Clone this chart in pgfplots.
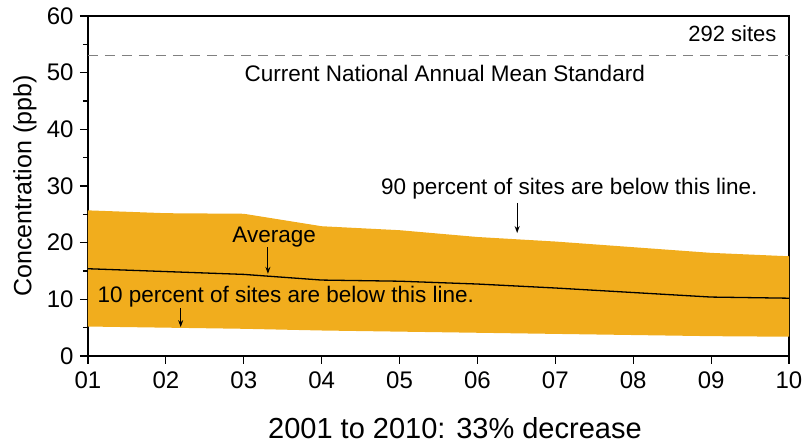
\documentclass[border=0pt]{standalone}
\usepackage{fontspec}
\setmainfont{Liberation Sans}
\usepackage{pgfplots}
\usepackage{pgfplotstable}
\pgfplotsset{compat=1.18}
\usetikzlibrary{arrows.meta}
\definecolor{band}{RGB}{241,173,29}

% year, 10th percentile, average, 90th percentile (ppb)
\pgfplotstableread{
x  p10  avg   p90
1  5.2  15.4  25.7
2  5.0  14.9  25.2
3  4.8  14.4  25.1
4  4.5  13.4  22.9
5  4.3  13.2  22.2
6  4.1  12.7  21.0
7  3.9  12.0  20.2
8  3.7  11.2  19.2
9  3.5  10.4  18.2
10 3.4  10.2  17.6
}\notwo

\begin{document}
\begin{tikzpicture}
\begin{axis}[
  scale only axis,
  width=701pt, height=340pt,
  xmin=1, xmax=10, ymin=0, ymax=60,
  xtick={1,...,10},
  xticklabels={01,02,03,04,05,06,07,08,09,10},
  ytick={0,10,...,60},
  minor ytick={5,15,...,55},
  tick pos=left,
  tick align=outside,
  tickwidth=8pt, subtickwidth=5pt,
  every tick/.append style={black, line width=1.2pt},
  axis line style={line width=1.2pt},
  ticklabel style={font=\fontsize{24}{28}\selectfont},
  yticklabel style={xshift=-3pt},
  xticklabel style={yshift=-4pt},
  /pgf/number format/assume math mode=true,
  xlabel={2001 to 2010: 33\% decrease},
  ylabel={Concentration (ppb)},
  xlabel style={font=\fontsize{29}{33}\selectfont, at={(axis description cs:0.5235,-0.212)}, anchor=center},
  ylabel style={font=\fontsize{25}{29}\selectfont, at={(axis description cs:-0.0899,0.5)}, anchor=center},
  clip=false,
]
% band: 10th percentile forwards, 90th percentile backwards
\addplot[fill=band, draw=none] coordinates {
  (1,5.2) (2,5.0) (3,4.8) (4,4.5) (5,4.3) (6,4.1) (7,3.9) (8,3.7) (9,3.5) (10,3.4)
  (10,17.6) (9,18.2) (8,19.2) (7,20.2) (6,21.0) (5,22.2) (4,22.9) (3,25.1) (2,25.2) (1,25.7)
} -- cycle;
\addplot[black, line width=1.3pt] table[x=x, y=avg] {\notwo};
\addplot[gray, line width=1.2pt, dash pattern=on 10pt off 7pt] coordinates {(1,53) (10,53)};

% outward tick strokes, lengths given in axis units (8pt and 5pt)
\pgfplotsinvokeforeach{1,...,10}{\draw[line width=1.2pt] (axis cs:#1,0) -- (axis cs:#1,-1.41);}
\pgfplotsinvokeforeach{0,10,...,60}{\draw[line width=1.2pt] (axis cs:1,#1) -- (axis cs:0.897,#1);}
\pgfplotsinvokeforeach{5,15,...,55}{\draw[line width=1.2pt] (axis cs:1,#1) -- (axis cs:0.936,#1);}

\node[anchor=east, font=\fontsize{22}{26}\selectfont] at (axis cs:9.884,56.8) {292 sites};
\node[font=\fontsize{22.5}{26}\selectfont] at (axis cs:5.58,49.8) {Current National Annual Mean Standard};
\node[font=\fontsize{22.5}{26}\selectfont] at (axis cs:7.18,29.6) {90 percent of sites are below this line.};
\draw[-{Stealth[length=7pt,width=5pt]}, line width=1pt] (axis cs:6.51,27.0) -- (axis cs:6.51,21.7);
\node[font=\fontsize{22.5}{26}\selectfont] at (axis cs:3.39,21.0) {Average};
\draw[-{Stealth[length=7pt,width=5pt]}, line width=1pt] (axis cs:3.31,19.2) -- (axis cs:3.31,14.5);
\node[font=\fontsize{22.5}{26}\selectfont] at (axis cs:3.54,10.4) {10 percent of sites are below this line.};
\draw[-{Stealth[length=7pt,width=5pt]}, line width=1pt] (axis cs:2.19,8.5) -- (axis cs:2.19,5.1);
\end{axis}
\useasboundingbox (current axis.south west) ++(-88pt,-88pt) rectangle ++(809pt,444pt);
\end{tikzpicture}
\end{document}
